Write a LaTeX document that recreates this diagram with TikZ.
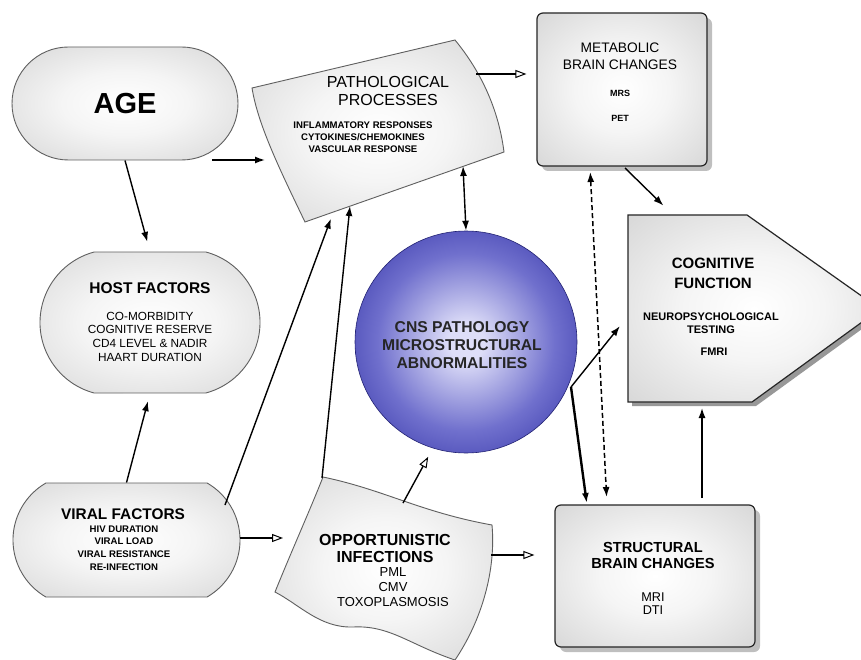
\documentclass[tikz,border=0pt]{standalone}
\usepackage{fontspec}
\setmainfont{Liberation Sans}
\usetikzlibrary{arrows.meta,shapes.misc,shadows}
\definecolor{edgeG}{RGB}{95,95,95}
\definecolor{fillOut}{RGB}{196,196,196}
\definecolor{cnsIn}{RGB}{222,222,248}
\definecolor{cnsMid}{RGB}{112,112,205}
\definecolor{cnsOut}{RGB}{48,48,165}
\pgfdeclareradialshading{softgray}{\pgfpoint{0bp}{0bp}}{color(0bp)=(white); color(14bp)=(white!96!black); color(50bp)=(fillOut)}
\pgfdeclareradialshading{sphere}{\pgfpoint{0bp}{0bp}}{color(0bp)=(cnsIn); color(4bp)=(cnsIn); color(20bp)=(cnsMid); color(35bp)=(cnsOut); color(50bp)=(cnsOut)}

\begin{document}
\begin{tikzpicture}[x=1pt,y=-1pt,>={Latex[length=10pt,width=7pt]},
  pill/.style={rounded rectangle,draw=edgeG,line width=0.9pt,shading=softgray,inner sep=0pt},
  sqbox/.style={rectangle,rounded corners=6pt,draw=black!85,line width=1.2pt,shading=softgray,
    drop shadow={shadow xshift=5pt,shadow yshift=-5pt,fill=black!50},inner sep=0pt},
  wave/.style={draw=edgeG,line width=0.9pt,shading=softgray},
  lbl/.style={align=center,inner sep=0pt},
  link/.style={->,line width=1.4pt},
  hollow/.style={-{Triangle[open,length=11pt,width=8pt,line width=1pt]},line width=1.4pt}]
\clip (0,0) rectangle (861,660);
\fill[white] (0,0) rectangle (861,660);

% left column
\node[pill,minimum width=226pt,minimum height=113pt,rounded rectangle arc length=180,
  font=\fontsize{29}{32}\selectfont\bfseries] (age) at (125,103.5) {AGE};
\node[pill,minimum width=220pt,minimum height=141pt,rounded rectangle arc length=150] (host) at (150,322.5) {};
\node[pill,minimum width=227pt,minimum height=114pt,rounded rectangle arc length=120] (viral) at (126.5,540) {};
\node[lbl,font=\fontsize{15.5}{18}\selectfont\bfseries] (hostT) at (150,288) {HOST FACTORS};
\node[lbl,font=\fontsize{11.8}{13.7}\selectfont] (hostL) at (150,336.5)
  {CO-MORBIDITY\\COGNITIVE RESERVE\\CD4 LEVEL \& NADIR\\HAART DURATION};
\node[lbl,font=\fontsize{15.4}{18}\selectfont\bfseries] (viralT) at (123,514) {VIRAL FACTORS};
\node[lbl,font=\fontsize{9.6}{12.7}\selectfont\bfseries] (viralL) at (124,548)
  {HIV DURATION\\VIRAL LOAD\\VIRAL RESISTANCE\\RE-INFECTION};

% pathological processes
\shade[wave] (252,88) -- (455,40) .. controls (478,68) and (498,105) .. (504,152)
  -- (305,222) .. controls (280,170) and (258,125) .. cycle;
\node[lbl,font=\fontsize{16}{18}\selectfont] (pathT) at (388,91) {PATHOLOGICAL\\PROCESSES};
\node[lbl,font=\fontsize{9.6}{12}\selectfont\bfseries] (pathL) at (363,137)
  {INFLAMMATORY RESPONSES\\CYTOKINES/CHEMOKINES\\VASCULAR RESPONSE};
\coordinate (pathW) at (280,160);
\coordinate (pathS1) at (333,213);
\coordinate (pathS2) at (350,206);
\coordinate (pathS3) at (463,166);
\coordinate (pathE) at (476,74);

% opportunistic infections
\shade[wave] (323,477) .. controls (385,490) and (420,512) .. (492,525)
  .. controls (496,570) and (482,620) .. (455,660)
  .. controls (410,645) and (390,625) .. (353,627)
  .. controls (320,628) and (300,605) .. (275,592)
  .. controls (292,550) and (310,510) .. cycle;
\node[lbl,font=\fontsize{16}{17}\selectfont\bfseries] (oppT) at (385,548.5) {OPPORTUNISTIC\\INFECTIONS};
\node[lbl,font=\fontsize{13}{15}\selectfont] (oppL) at (393,587) {PML\\CMV\\TOXOPLASMOSIS};
\coordinate (oppW) at (297,538);
\coordinate (oppNW) at (322,478);
\coordinate (oppN) at (403,503);
\coordinate (oppE) at (491,555);

% brain changes
\node[sqbox,minimum width=170pt,minimum height=153pt] (meta) at (622,89.5) {};
\node[lbl,font=\fontsize{13.8}{17}\selectfont] (metaT) at (620,56.5) {METABOLIC\\BRAIN CHANGES};
\node[lbl,font=\fontsize{9}{10}\selectfont\bfseries] (metaM) at (620,93) {MRS};
\node[lbl,font=\fontsize{9}{10}\selectfont\bfseries] (metaP) at (620,118) {PET};
\node[sqbox,minimum width=200pt,minimum height=142pt] (struct) at (655,576) {};
\node[lbl,font=\fontsize{14.6}{16}\selectfont\bfseries] (structT) at (653,555) {STRUCTURAL\\BRAIN CHANGES};
\node[lbl,font=\fontsize{12.7}{13}\selectfont] (structL) at (653,603.5) {MRI\\DTI};

% cognitive function
\shade[wave,draw=black!85,line width=1.2pt,drop shadow={shadow xshift=4pt,shadow yshift=-4pt,fill=black!80}]
  (628,215) -- (747,215) -- (880,309) -- (752,402) -- (628,402) -- cycle;
\node[lbl,font=\fontsize{15}{20}\selectfont\bfseries] (cogT) at (713,273) {COGNITIVE\\FUNCTION};
\node[lbl,font=\fontsize{11}{13}\selectfont\bfseries] (cogL) at (711,323.5) {NEUROPSYCHOLOGICAL\\TESTING};
\node[lbl,font=\fontsize{11}{13}\selectfont\bfseries] (cogF) at (714,352) {FMRI};
\coordinate (cogN) at (672,214);
\coordinate (cogW) at (628,316);
\coordinate (cogS) at (702,402);

% CNS sphere
\node[circle,minimum size=222pt,shading=sphere,draw=cnsOut!70!black,line width=0.6pt] (cns) at (466,342) {};
\node[lbl,font=\fontsize{15.7}{18}\selectfont\bfseries,text=black!85] (cnsT) at (462,345)
  {CNS PATHOLOGY\\MICROSTRUCTURAL\\ABNORMALITIES};
\coordinate (cnsS) at (433,448);
\coordinate (cnsOut) at (571,387);

% connectors
\coordinate (ageE) at (212,160);
\coordinate (viralNE) at (225,505);
\coordinate (metaS) at (625,168);
\coordinate (metaS2) at (590,167);
\coordinate (structN) at (607,505);
\coordinate (structN1) at (587,505);
\coordinate (structN2) at (702,505);
\draw[link,shorten >=10pt] (age.south) -- (host.north);
\draw[link,shorten >=8pt] (viral.north) -- (host.south);
\draw[link,shorten >=15pt] (ageE) -- (pathW);
\draw[link,shorten >=6pt] (viralNE) -- (pathS1);
\draw[link] (oppNW) -- (pathS2);
\draw[<->,line width=1.4pt] (pathS3) -- (cns.north);
\draw[hollow,shorten >=10pt] (pathE) -- (pathE -| meta.west);
\draw[link,shorten >=12pt] (metaS) -- (cogN);
\draw[<->,line width=1.5pt,dash pattern=on 5pt off 3pt,shorten <=5pt,shorten >=8pt] (metaS2) -- (structN);
\draw[->,line width=2.4pt,shorten >=2pt] (cnsOut) -- (structN1);
\draw[link,shorten >=13pt] (cnsOut) -- (cogW);
\draw[hollow,shorten >=14pt] (viral.east |- oppW) -- (oppW);
\draw[hollow,shorten >=10pt] (oppN) -- (cnsS);
\draw[hollow,shorten >=20pt] (oppE) -- (oppE -| struct.west);
\draw[link,shorten <=7pt,shorten >=6pt] (structN2) -- (cogS);
\end{tikzpicture}
\end{document}
